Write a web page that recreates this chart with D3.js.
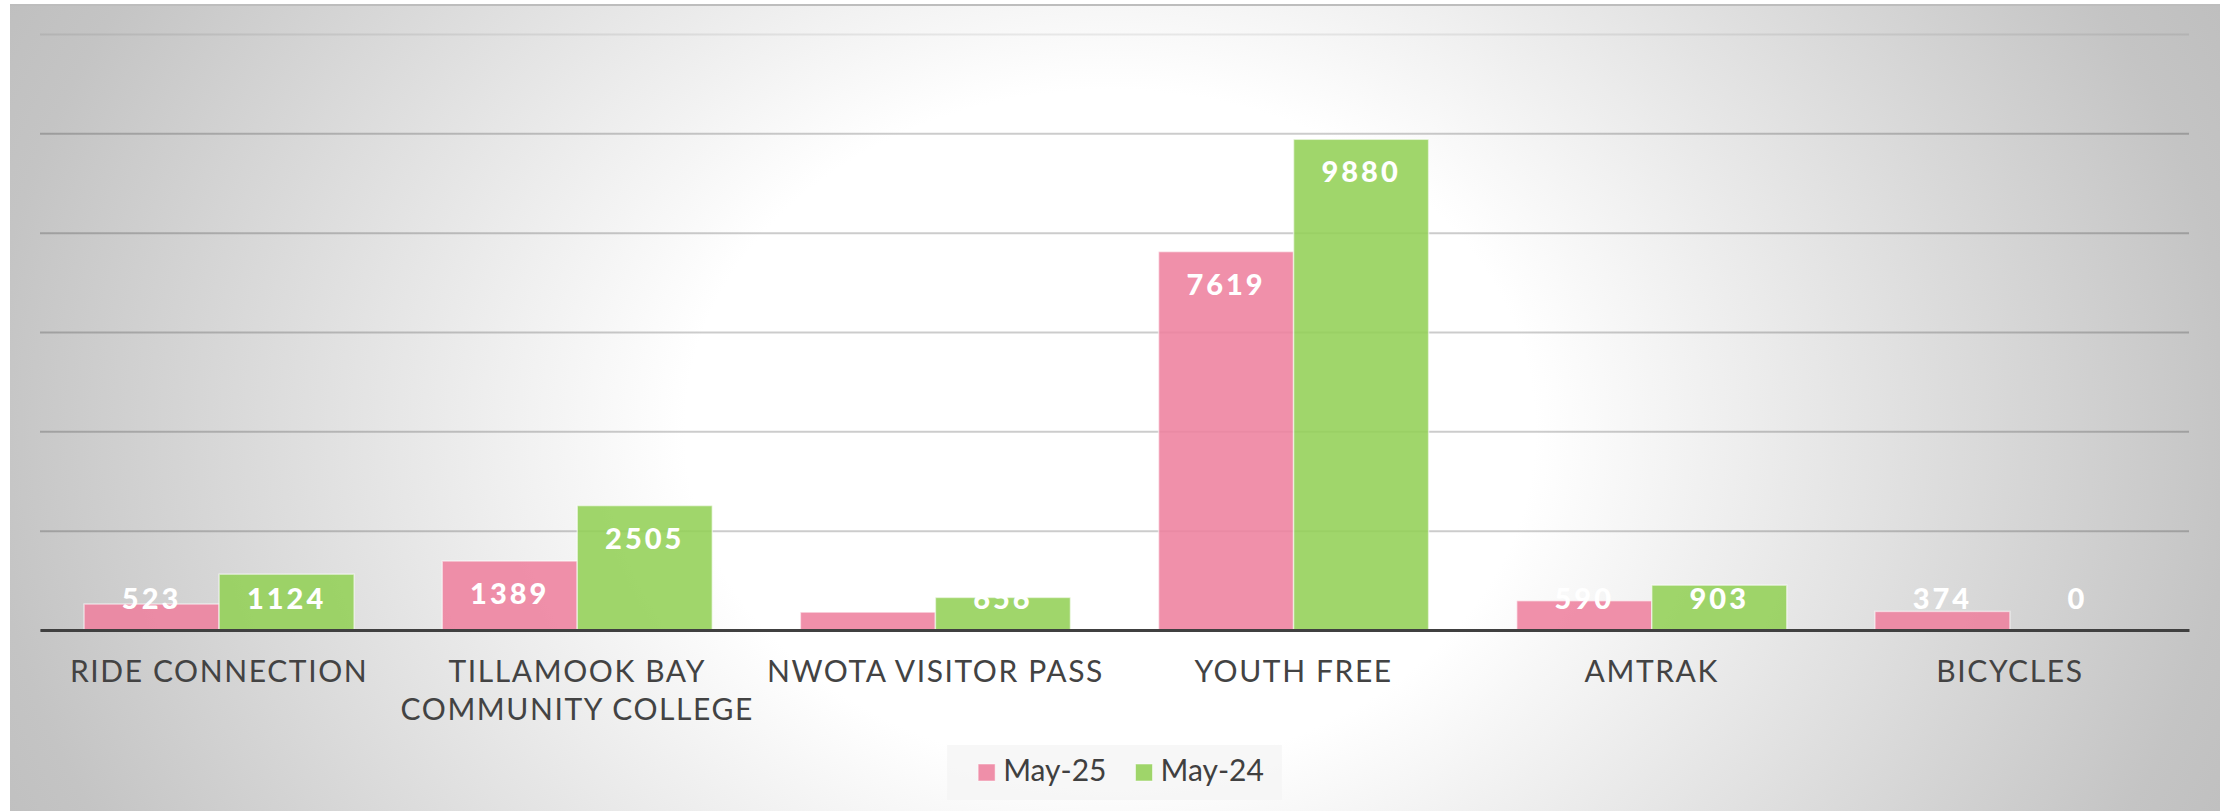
<!DOCTYPE html>
<html>
<head>
<meta charset="utf-8">
<script src="https://cdn.jsdelivr.net/npm/d3@7"></script>
<style>
  body { margin: 0; background: #fff; }
  svg { display: block; }
</style>
</head>
<body>
<svg id="chart" width="2231" height="811"></svg>
<script>
// data
var categories = ["RIDE CONNECTION", "TILLAMOOK BAY COMMUNITY COLLEGE", "NWOTA VISITOR PASS", "YOUTH FREE", "AMTRAK", "BICYCLES"];
var seriesNames = ["May-25", "May-24"];
var may25 = [523, 1389, 360, 7619, 590, 374];
var may24 = [1124, 2505, 656, 9880, 903, 0];
var yTicks = [0, 2000, 4000, 6000, 8000, 10000, 12000];
var colors = ["#ee819e", "#93d056"];

var svg = d3.select("#chart"),
    W = +svg.attr("width"),
    H = +svg.attr("height"),
    margin = {top: 34, right: 42, bottom: 181, left: 40},
    plotW = W - margin.left - margin.right,
    plotH = H - margin.top - margin.bottom;

// background panel with radial gradient
var defs = svg.append("defs");
var grad = defs.append("radialGradient")
  .attr("id", "bg")
  .attr("gradientUnits", "userSpaceOnUse")
  .attr("cx", 0).attr("cy", 0).attr("r", 1)
  .attr("gradientTransform", "translate(1110,430) scale(1250,1000)");
grad.append("stop").attr("offset", 0).attr("stop-color", "#ffffff");
grad.append("stop").attr("offset", 0.34).attr("stop-color", "#ffffff");
grad.append("stop").attr("offset", 0.9).attr("stop-color", "#c4c4c4");
grad.append("stop").attr("offset", 1).attr("stop-color", "#bebebe");

svg.append("rect")
  .attr("x", 10).attr("y", 5)
  .attr("width", 2210).attr("height", H - 5)
  .attr("fill", "url(#bg)");
svg.append("line")
  .attr("x1", 10).attr("x2", 2220)
  .attr("y1", 5).attr("y2", 5)
  .attr("stroke", "#bdbdbd").attr("stroke-width", 2);

var g = svg.append("g").attr("transform", "translate(" + margin.left + "," + margin.top + ")");

var x0 = d3.scaleBand()
  .domain(categories)
  .range([0, plotW])
  .paddingInner(0.246)
  .paddingOuter(0.123);

var x1 = d3.scaleBand()
  .domain(seriesNames)
  .range([0, x0.bandwidth()]);

var y = d3.scaleLinear()
  .domain([0, 12000])
  .range([plotH, 0]);

var z = d3.scaleOrdinal().domain(seriesNames).range(colors);

// gridlines
var grid = g.append("g")
  .attr("class", "grid")
  .call(d3.axisLeft(y).tickValues(yTicks).tickSize(-plotW).tickFormat(""));
grid.select(".domain").remove();
grid.selectAll(".tick line")
  .attr("stroke", "#000")
  .attr("stroke-opacity", function(d) { return d === 12000 ? 0.07 : 0.2; })
  .attr("stroke-width", 2);

var rows = categories.map(function(c, i) {
  return {cat: c, values: [{key: seriesNames[0], value: may25[i]}, {key: seriesNames[1], value: may24[i]}]};
});

var groups = g.selectAll(".cat")
  .data(rows)
  .enter().append("g")
  .attr("class", "cat")
  .attr("transform", function(d) { return "translate(" + x0(d.cat) + ",0)"; });

groups.selectAll("rect")
  .data(function(d) { return d.values; })
  .enter().append("rect")
  .attr("x", function(d) { return x1(d.key); })
  .attr("y", function(d) { return y(d.value); })
  .attr("width", x1.bandwidth())
  .attr("height", function(d) { return plotH - y(d.value); })
  .attr("fill", function(d) { return z(d.key); })
  .attr("fill-opacity", 0.88)
  .attr("stroke", "#ffffff")
  .attr("stroke-opacity", function(d) { return d.value > 0 ? 0.55 : 0; })
  .attr("stroke-width", 1.5);

// x axis
var xAxis = g.append("g")
  .attr("class", "axis axis--x")
  .attr("transform", "translate(0," + plotH + ")")
  .call(d3.axisBottom(x0).tickSize(0).tickSizeOuter(0));

xAxis.select(".domain")
  .attr("stroke", "#404040")
  .attr("stroke-width", 3);

xAxis.selectAll(".tick text")
  .attr("fill", "#434343")
  .style("font-family", "Lato, 'Open Sans', sans-serif")
  .style("font-size", "30px")
  .style("letter-spacing", "1.6px")
  .call(wrap, x0.step());

// value labels
groups.selectAll(".lbl")
  .data(function(d) { return d.values; })
  .enter().append("text")
  .attr("class", "lbl")
  .attr("x", function(d) { return x1(d.key) + x1.bandwidth() / 2; })
  .attr("y", function(d) { return Math.min(y(d.value) + 43, plotH - 21); })
  .attr("text-anchor", "middle")
  .attr("fill", "#ffffff")
  .style("font-family", "Lato, 'Open Sans', sans-serif")
  .style("font-weight", 900)
  .style("font-size", "29px")
  .style("letter-spacing", "3px")
  .text(function(d) { return d.value; });

// legend
var legend = svg.append("g").attr("class", "legend");
var legBox = legend.append("rect")
  .attr("fill", "#f4f4f4")
  .attr("fill-opacity", 0.75);

var items = legend.selectAll(".item")
  .data(seriesNames)
  .enter().append("g")
  .attr("class", "item");

items.append("rect")
  .attr("width", 17)
  .attr("height", 17)
  .attr("y", -17)
  .attr("fill", z)
  .attr("fill-opacity", 0.88)
  .attr("stroke", "#fff")
  .attr("stroke-opacity", 0.5);

items.append("text")
  .attr("x", 25)
  .attr("fill", "#404040")
  .style("font-family", "Lato, 'Open Sans', sans-serif")
  .style("font-size", "30px")
  .text(function(d) { return d; });

var offs = 0, widths = [];
items.each(function() {
  var w = 25 + d3.select(this).select("text").node().getComputedTextLength();
  widths.push(w);
});
var gap = 29;
var total = d3.sum(widths) + gap * (widths.length - 1);
var padL = 31, padR = 18;
var boxW = total + padL + padR;
var boxX = margin.left + plotW / 2 - boxW / 2;
items.attr("transform", function(d, i) {
  var t = "translate(" + (boxX + padL + offs) + ",781)";
  offs += widths[i] + gap;
  return t;
});
legBox
  .attr("x", boxX)
  .attr("y", 745)
  .attr("width", boxW)
  .attr("height", 55);

function wrap(text, width) {
  text.each(function() {
    var t = d3.select(this),
        words = t.text().split(/\s+/).reverse(),
        word,
        line = [],
        lineNo = 0,
        tspan = t.text(null).append("tspan").attr("x", 0).attr("y", 52);
    while (word = words.pop()) {
      line.push(word);
      tspan.text(line.join(" "));
      if (tspan.node().getComputedTextLength() > width && line.length > 1) {
        line.pop();
        tspan.text(line.join(" "));
        line = [word];
        lineNo++;
        tspan = t.append("tspan").attr("x", 0).attr("y", 52 + lineNo * 38).text(word);
      }
    }
    t.attr("dy", null);
  });
}
</script>
</body>
</html>
